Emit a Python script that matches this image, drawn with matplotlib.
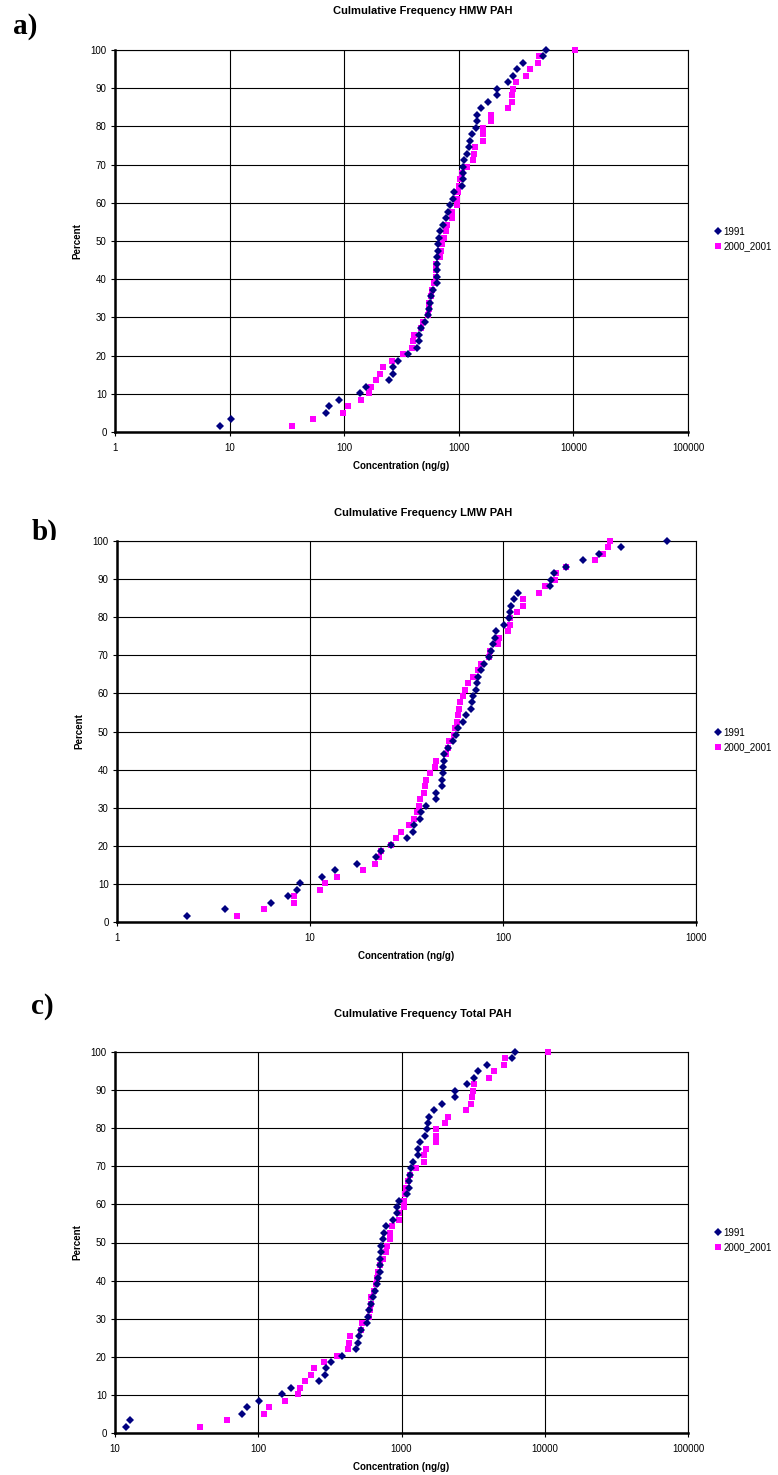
import numpy as np
import matplotlib
matplotlib.use('Agg')
import matplotlib.pyplot as plt
from matplotlib.patches import Rectangle

W, H = 778, 1475

# cumulative percent for 59 samples
pct = np.arange(1, 60) * 100.0 / 59

# a) HMW PAH (ng/g)
hmw_1991 = [8.2, 10.3, 69, 74, 89.5, 137, 155, 246, 264, 268,
            295, 357, 436, 450, 450, 470, 512, 540, 555, 565,
            575, 590, 640, 645, 648, 650, 650, 652, 660, 675,
            685, 735, 774, 800, 845, 887, 915, 1070, 1080, 1085,
            1090, 1110, 1190, 1225, 1260, 1310, 1400, 1440, 1440, 1570,
            1800, 2170, 2170, 2690, 2970, 3230, 3640, 5400, 5750]
hmw_2000 = [34.8, 53.8, 96.8, 109, 140, 165, 173, 191, 205, 220,
            259, 326, 387, 398, 403, 464, 490, 541, 548, 548,
            567, 578, 606, 627, 627, 635, 679, 702, 716, 750,
            770, 785, 874, 874, 973, 973, 986, 1013, 1027, 1070,
            1185, 1330, 1365, 1380, 1620, 1620, 1620, 1900, 1920, 2670,
            2940, 2940, 2980, 3140, 3850, 4170, 4930, 5030, 10250]

# b) LMW PAH (ng/g)
lmw_1991 = [2.31, 3.63, 6.27, 7.65, 8.56, 8.91, 11.5, 13.5, 17.5, 22.0,
            23.4, 26.4, 31.8, 34.2, 34.5, 37.0, 37.8, 40.1, 44.9, 45.2,
            48.4, 48.5, 49.0, 49.0, 49.3, 49.5, 52.0, 55.2, 57.4, 58.6,
            61.7, 64.0, 68.5, 69.0, 70.2, 72.4, 73.3, 74.0, 76.9, 80.0,
            85.0, 86.5, 88.4, 90.6, 92.0, 101.6, 108, 109, 110, 114,
            120, 175, 178, 183, 212, 260, 314, 407, 706]
lmw_2000 = [4.21, 5.79, 8.22, 8.29, 11.3, 11.9, 13.8, 18.8, 21.6, 22.9,
            23.2, 26.4, 27.8, 29.5, 32.6, 34.5, 36.0, 36.7, 37.0, 38.8,
            39.3, 39.8, 42.1, 44.3, 45.2, 50.9, 52.0, 52.6, 55.8, 56.3,
            58.1, 58.3, 59.3, 60.0, 62.3, 63.6, 66.0, 70.2, 74.2, 76.9,
            85.0, 86.0, 94.6, 95.7, 105.7, 109, 109, 117.8, 126.5, 127.6,
            154.5, 165, 185.6, 189, 212, 299, 328, 349, 359]

# c) Total PAH (ng/g)
tot_1991 = [11.9, 12.8, 76.5, 83.0, 100.5, 146, 169, 265, 292, 295,
            323, 387, 483, 493, 507, 520, 570, 580, 590, 610,
            630, 650, 676, 690, 705, 705, 707, 718, 725, 745,
            760, 778, 875, 923, 933, 960, 1090, 1130, 1130, 1142,
            1173, 1205, 1300, 1305, 1355, 1450, 1515, 1530, 1550, 1680,
            1930, 2360, 2370, 2860, 3230, 3440, 3940, 5930, 6150]
tot_2000 = [39.2, 60.1, 109.6, 118.7, 153.5, 190, 195, 213, 232, 245,
            289, 352, 425, 430, 436, 525, 532, 595, 602, 608,
            617, 645, 662, 676, 687, 706, 745, 777, 786, 829,
            830, 852, 963, 963, 1038, 1038, 1055, 1083, 1112, 1143,
            1272, 1430, 1437, 1490, 1730, 1750, 1750, 2000, 2110, 2830,
            3060, 3110, 3150, 3230, 4110, 4390, 5230, 5320, 10600]

series_names = ['1991', '2000_2001']
titles = ['Culmulative Frequency HMW PAH',
          'Culmulative Frequency LMW PAH',
          'Culmulative Frequency Total PAH']
panel_letters = ['a)', 'b)', 'c)']
x_ranges = [(1, 100000), (1, 1000), (10, 100000)]

# plot-area boxes in pixels: left, top, right, bottom
boxes = [(115, 50, 688, 432), (117, 541, 696, 922), (115, 1052, 688, 1433)]
title_y = [11, 513, 1014]
legend_y = [232, 733, 1233]
letter_pos = [(25, 27), (45, 532), (42, 1006)]

plt.rcParams['font.family'] = ['Liberation Sans', 'DejaVu Sans']

fig = plt.figure(figsize=(W / 100, H / 100), dpi=100)
fig.patch.set_facecolor('white')

data = [(hmw_1991, hmw_2000), (lmw_1991, lmw_2000), (tot_1991, tot_2000)]

for k in range(3):
    l, t, r, b = boxes[k]
    ax = fig.add_axes([l / W, 1 - b / H, (r - l) / W, (b - t) / H])
    s91, s00 = data[k]
    h1, = ax.plot(s91, pct, linestyle='none', marker='D', markersize=3.9,
                  markeredgewidth=0, color='#000080', label=series_names[0],
                  zorder=4, clip_on=False)
    h2, = ax.plot(s00, pct, linestyle='none', marker='s', markersize=4.6,
                  markeredgewidth=0, color='#FF00FF', label=series_names[1],
                  zorder=3, clip_on=False)

    ax.set_xscale('log')
    ax.set_xlim(*x_ranges[k])
    ax.set_ylim(0, 100)
    lo, hi = x_ranges[k]
    decades = [10 ** e for e in range(int(np.log10(lo)), int(np.log10(hi)) + 1)]
    ax.set_xticks(decades)
    ax.set_xticklabels([str(d) for d in decades])
    ax.xaxis.set_minor_locator(matplotlib.ticker.NullLocator())
    ax.set_yticks(range(0, 101, 10))
    ax.grid(True, color='black', linewidth=0.8)
    ax.set_axisbelow(True)
    ax.tick_params(axis='both', labelsize=7, direction='out', length=3,
                   width=0.8, color='black', pad=3)
    ax.tick_params(axis='x', pad=5)
    for side in ['top', 'right']:
        ax.spines[side].set_linewidth(0.8)
    for side in ['left', 'bottom']:
        ax.spines[side].set_linewidth(1.8)

    ax.text(0.5, -34 / (b - t), 'Concentration (ng/g)', transform=ax.transAxes,
            ha='center', va='center', fontsize=7, fontweight='bold')
    ax.text(-38 / (r - l), 0.5, 'Percent', transform=ax.transAxes, rotation=90,
            ha='center', va='center', fontsize=7, fontweight='bold')

    fig.text(423 / W, 1 - title_y[k] / H, titles[k], ha='center', va='center',
             fontsize=8, fontweight='bold')

    ax.legend(handles=[h1, h2], loc='center left',
              bbox_to_anchor=(710 / W, 1 - (legend_y[k] + 7) / H),
              bbox_transform=fig.transFigure,
              frameon=False, fontsize=7, handlelength=0.6, handletextpad=0.3,
              borderpad=0, labelspacing=0.45, markerscale=1.0)

    lx, ly = letter_pos[k]
    fig.text(lx / W, 1 - ly / H, panel_letters[k], ha='center', va='center',
             fontsize=21, fontweight='bold', family='Liberation Serif', zorder=2)

# the b) label sits partly behind the chart area
fig.patches.append(Rectangle((20 / W, 1 - 560 / H), 50 / W, 20 / H,
                             transform=fig.transFigure, facecolor='white',
                             edgecolor='none', zorder=5))

fig.savefig('out.png', dpi=100)
